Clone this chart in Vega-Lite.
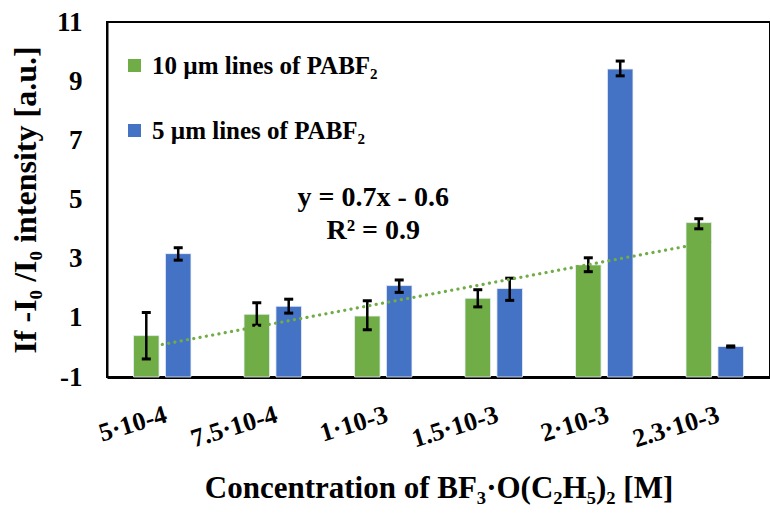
{
  "$schema": "https://vega.github.io/schema/vega-lite/v6.json",
  "autosize": {"type": "none"},
  "padding": {"left": 107, "top": 22, "right": 0, "bottom": 136},
  "width": 663,
  "height": 355,
  "background": "white",
  "config": {
    "font": "'Times New Roman', 'Liberation Serif', serif",
    "view": {"stroke": "black", "strokeWidth": 2},
    "axis": {"grid": false, "ticks": false, "tickSize": 0, "labelFont": "'Times New Roman', 'Liberation Serif', serif", "titleFont": "'Times New Roman', 'Liberation Serif', serif", "labelFontWeight": "bold", "titleFontWeight": "bold", "labelColor": "black", "titleColor": "black", "domainColor": "black"},
    "legend": {"labelFont": "'Times New Roman', 'Liberation Serif', serif", "labelFontWeight": "bold"}
  },
  "datasets": {
    "bars": [
      {"conc": "5·10-4", "series": "10 µm lines of PABF₂", "value": 0.40, "lo": -0.39, "hi": 1.18},
      {"conc": "5·10-4", "series": "5 µm lines of PABF₂", "value": 3.17, "lo": 2.95, "hi": 3.37},
      {"conc": "7.5·10-4", "series": "10 µm lines of PABF₂", "value": 1.12, "lo": 0.75, "hi": 1.51},
      {"conc": "7.5·10-4", "series": "5 µm lines of PABF₂", "value": 1.39, "lo": 1.16, "hi": 1.63},
      {"conc": "1·10-3", "series": "10 µm lines of PABF₂", "value": 1.06, "lo": 0.60, "hi": 1.58},
      {"conc": "1·10-3", "series": "5 µm lines of PABF₂", "value": 2.09, "lo": 1.86, "hi": 2.28},
      {"conc": "1.5·10-3", "series": "10 µm lines of PABF₂", "value": 1.66, "lo": 1.37, "hi": 1.95},
      {"conc": "1.5·10-3", "series": "5 µm lines of PABF₂", "value": 1.99, "lo": 1.59, "hi": 2.34},
      {"conc": "2·10-3", "series": "10 µm lines of PABF₂", "value": 2.79, "lo": 2.56, "hi": 3.03},
      {"conc": "2·10-3", "series": "5 µm lines of PABF₂", "value": 9.41, "lo": 9.18, "hi": 9.68},
      {"conc": "2.3·10-3", "series": "10 µm lines of PABF₂", "value": 4.22, "lo": 4.01, "hi": 4.35},
      {"conc": "2.3·10-3", "series": "5 µm lines of PABF₂", "value": 0.03, "lo": 0.01, "hi": 0.05}
    ],
    "trend": [
      {"conc": "5·10-4", "fit": 0.1},
      {"conc": "2.3·10-3", "fit": 3.6}
    ],
    "eq": [
      {"conc": "1·10-3", "ypos": 5.05, "label": "y = 0.7x - 0.6"},
      {"conc": "1·10-3", "ypos": 3.92, "label": "R² = 0.9"}
    ]
  },
  "encoding": {
    "x": {
      "field": "conc", "type": "nominal",
      "sort": ["5·10-4", "7.5·10-4", "1·10-3", "1.5·10-3", "2·10-3", "2.3·10-3"],
      "scale": {"paddingInner": 0.48, "paddingOuter": 0.24},
      "axis": {"title": "Concentration of BF₃·O(C₂H₅)₂ [M]", "titleFontSize": 31, "titlePadding": 22, "labelFontSize": 26, "labelAngle": -17, "labelAlign": "right", "labelBaseline": "top", "labelPadding": 24, "domainWidth": 3}
    }
  },
  "layer": [
    {
      "data": {"name": "bars"},
      "mark": {"type": "bar", "stroke": "#e8eef8", "strokeWidth": 0.8},
      "encoding": {
        "xOffset": {"field": "series", "type": "nominal", "sort": ["10 µm lines of PABF₂", "5 µm lines of PABF₂"], "scale": {"paddingInner": 0.2, "paddingOuter": 0}},
        "y": {"field": "value", "type": "quantitative", "scale": {"domain": [-1, 11], "nice": false, "zero": false},
          "axis": {"values": [-1, 1, 3, 5, 7, 9, 11], "labelExpr": "replace(datum.label, '−', '-')", "title": "If -I₀ /I₀ intensity  [a.u.]", "titleFontSize": 32, "titlePadding": 14, "labelFontSize": 27, "labelPadding": 25, "domainWidth": 2}},
        "y2": {"datum": -1},
        "color": {"field": "series", "type": "nominal",
          "scale": {"domain": ["10 µm lines of PABF₂", "5 µm lines of PABF₂"], "range": ["#70AD47", "#4472C4"]},
          "legend": {"title": null, "orient": "none", "legendX": 15, "legendY": 31, "symbolType": "square", "symbolSize": 169, "symbolStrokeWidth": 0, "labelFont": "'Times New Roman', 'Liberation Serif', serif", "labelFontWeight": "bold", "labelFontSize": 25, "labelColor": "black", "labelOffset": 5, "rowPadding": 39, "padding": 0, "labelLimit": 400}}
      }
    },
    {
      "data": {"name": "bars"},
      "mark": {"type": "rule", "color": "black", "strokeWidth": 2.5},
      "encoding": {
        "xOffset": {"field": "series", "type": "nominal", "sort": ["10 µm lines of PABF₂", "5 µm lines of PABF₂"]},
        "y": {"field": "lo", "type": "quantitative"},
        "y2": {"field": "hi"}
      }
    },
    {
      "data": {"name": "bars"},
      "mark": {"type": "tick", "color": "black", "thickness": 3, "size": 9, "opacity": 1},
      "encoding": {
        "xOffset": {"field": "series", "type": "nominal", "sort": ["10 µm lines of PABF₂", "5 µm lines of PABF₂"]},
        "y": {"field": "lo", "type": "quantitative"}
      }
    },
    {
      "data": {"name": "bars"},
      "mark": {"type": "tick", "color": "black", "thickness": 3, "size": 9, "opacity": 1},
      "encoding": {
        "xOffset": {"field": "series", "type": "nominal", "sort": ["10 µm lines of PABF₂", "5 µm lines of PABF₂"]},
        "y": {"field": "hi", "type": "quantitative"}
      }
    },
    {
      "data": {"name": "trend"},
      "mark": {"type": "line", "color": "#70AD47", "strokeWidth": 3.2, "strokeDash": [0.1, 6.3], "strokeCap": "round"},
      "encoding": {
        "y": {"field": "fit", "type": "quantitative"}
      }
    },
    {
      "data": {"name": "eq"},
      "mark": {"type": "text", "font": "'Times New Roman', 'Liberation Serif', serif", "fontWeight": "bold", "fontSize": 28, "color": "black", "baseline": "middle", "align": "center", "dx": -10},
      "encoding": {
        "y": {"field": "ypos", "type": "quantitative"},
        "text": {"field": "label"}
      }
    }
  ]
}
